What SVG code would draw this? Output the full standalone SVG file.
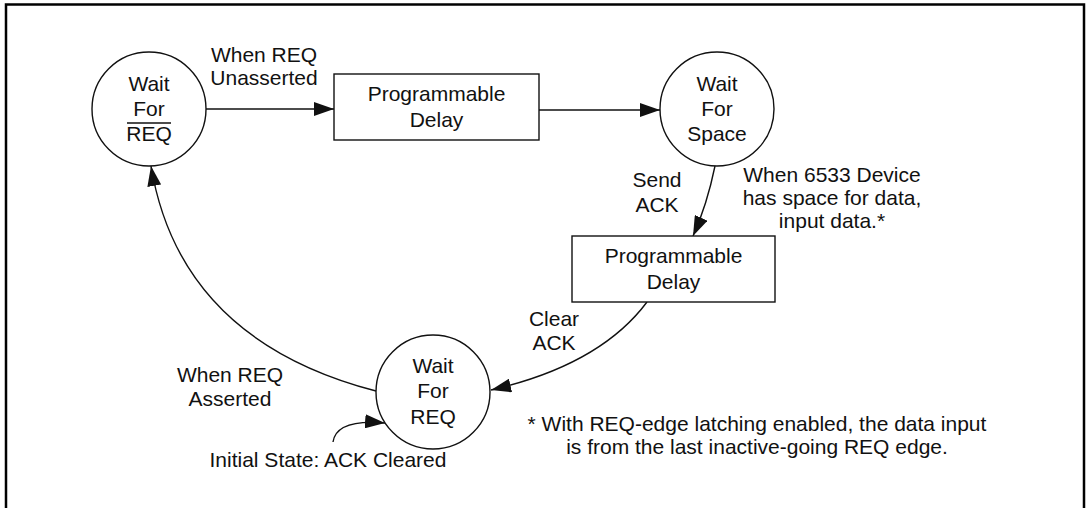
<svg xmlns="http://www.w3.org/2000/svg" width="1086" height="508" viewBox="0 0 1086 508">
<defs>
<style>
text{font-family:"Liberation Sans",Arial,sans-serif;font-size:21px;fill:#111;text-anchor:middle}
.node{fill:#fff;stroke:#111;stroke-width:1.4}
.conn{fill:none;stroke:#111;stroke-width:1.4}
.frame{fill:none;stroke:#000;stroke-width:2.5}
</style>
<marker id="ah" markerWidth="20" markerHeight="14" refX="20" refY="7" orient="auto" markerUnits="userSpaceOnUse">
<path d="M0,0 L20,7 L0,14 Z" fill="#111"/>
</marker>
</defs>
<rect width="1086" height="508" fill="#fff"/>
<path class="frame" d="M6,515 V4.5 H1084 V515"/>

<g id="connectors">
<line class="conn" x1="206" y1="109" x2="334" y2="109" marker-end="url(#ah)"/>
<line class="conn" x1="539" y1="110" x2="660" y2="110" marker-end="url(#ah)"/>
<path class="conn" d="M715,166 Q707,205 693,236" marker-end="url(#ah)"/>
<path class="conn" d="M647,302 Q600,365 491,390" marker-end="url(#ah)"/>
<path class="conn" d="M376,391 Q180,340 151,166" marker-end="url(#ah)"/>
<path class="conn" d="M333,442 C335,428 350,420 385,423" marker-end="url(#ah)"/>
</g>

<g id="wait-for-req-bar">
<circle class="node" cx="149" cy="109" r="57"/>
<text x="149" y="91">Wait</text>
<text x="149" y="116">For</text>
<line x1="127" y1="123" x2="171" y2="123" stroke="#111" stroke-width="1.4"/>
<text x="149" y="141">REQ</text>
</g>

<g id="delay-1">
<rect class="node" x="334" y="74" width="205" height="66"/>
<text x="436.5" y="101">Programmable</text>
<text x="436.5" y="127">Delay</text>
</g>

<g id="wait-for-space">
<circle class="node" cx="717" cy="109" r="57"/>
<text x="717" y="91">Wait</text>
<text x="717" y="116">For</text>
<text x="717" y="141">Space</text>
</g>

<g id="delay-2">
<rect class="node" x="572" y="236" width="203" height="66"/>
<text x="673.5" y="263">Programmable</text>
<text x="673.5" y="289">Delay</text>
</g>

<g id="wait-for-req">
<circle class="node" cx="433" cy="392" r="57"/>
<text x="433" y="373">Wait</text>
<text x="433" y="398">For</text>
<text x="433" y="424">REQ</text>
</g>

<g id="labels">
<text x="264" y="62">When REQ</text>
<text x="264" y="85">Unasserted</text>
<text x="657" y="187">Send</text>
<text x="657" y="212">ACK</text>
<text x="832" y="182">When 6533 Device</text>
<text x="832" y="205">has space for data,</text>
<text x="832" y="228">input data.*</text>
<text x="554" y="326">Clear</text>
<text x="554" y="350">ACK</text>
<text x="230" y="382">When REQ</text>
<text x="230" y="406">Asserted</text>
<text x="328" y="467">Initial State: ACK Cleared</text>
<text x="757" y="431">* With REQ-edge latching enabled, the data input</text>
<text x="757" y="454">is from the last inactive-going REQ edge.</text>
</g>
</svg>
